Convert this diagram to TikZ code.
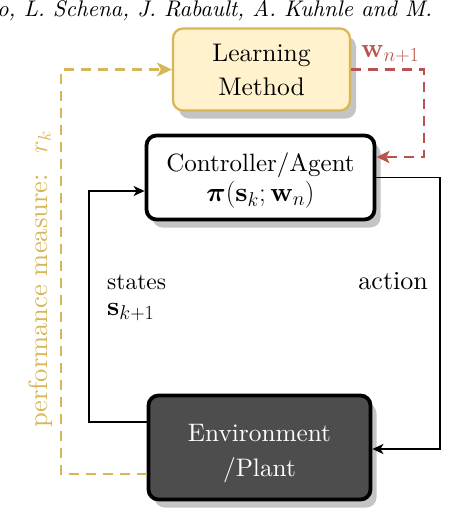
\RequirePackage{fix-cm}
\documentclass[tikz,border=0pt]{standalone}
\usepackage{amsmath,bm}
\usepackage{fontspec}
\setmainfont{lmroman10-regular.otf}[BoldFont=lmroman10-bold.otf, ItalicFont=lmroman10-italic.otf, BoldItalicFont=lmroman10-bolditalic.otf]
\DeclareMathSizes{27}{27}{20}{15}
\usetikzlibrary{shadows,arrows.meta}
\definecolor{goldc}{HTML}{D6B656}
\definecolor{goldfill}{HTML}{FFF2CC}
\definecolor{redc}{HTML}{B85450}
\definecolor{envfill}{HTML}{4D4D4D}
\definecolor{shadowc}{HTML}{C4C4C4}
\newcommand{\mathbig}{\fontsize{27}{30}\selectfont}
\tikzset{
  boxbase/.style={rounded corners=10pt, align=center, inner sep=0pt,
    drop shadow={shadow xshift=6pt, shadow yshift=-8pt, fill=shadowc, opacity=1}},
  learnbox/.style={boxbase, draw=goldc, fill=goldfill, line width=2.2pt, font=\fontsize{25.5}{34}\selectfont},
  ctrlbox/.style={boxbase, draw=black, fill=white, line width=3.8pt, font=\fontsize{25}{30}\selectfont},
  envbox/.style={boxbase, draw=black, fill=envfill, text=white, line width=3.8pt, font=\fontsize{25.3}{35}\selectfont},
  blackline/.style={draw=black, line width=1.8pt, -{Stealth[length=11pt,width=10pt,inset=3pt]}},
  goldline/.style={draw=goldc, line width=2.4pt, dash pattern=on 10pt off 7pt, -{Stealth[length=15pt,width=14pt,inset=4pt]}},
  redline/.style={draw=redc, line width=2.4pt, dash pattern=on 10pt off 7pt, -{Stealth[length=13pt,width=12pt,inset=3pt]}},
  lbl/.style={font=\fontsize{25}{30}\selectfont, inner sep=0pt},
}
\begin{document}
\begin{tikzpicture}[x=1pt,y=-1pt]
\useasboundingbox (0,0) rectangle (470,512);
\begin{scope}
\clip (0,0) rectangle (470,512);
\node[lbl, anchor=base west, font=\fontsize{22.6}{26}\selectfont\itshape] (hdr) at (-3,16) {o, L. Schena, J. Rabault, A. Kuhnle and M.};
\end{scope}
\node[learnbox, minimum width=177pt, minimum height=82pt] (learn) at (261.5,69.5) {Learning\\Method};
\node[ctrlbox, minimum width=228pt, minimum height=84pt] (ctrl) at (260.5,177.5) {\rule{0pt}{25pt}Controller/Agent\\{\mathbig$\boldsymbol{\pi}(\mathbf{s}_k;\mathbf{w}_n)$}};
\node[envbox, minimum width=222pt, minimum height=104pt] (env) at (259.5,447.5) {\rule{0pt}{30pt}Environment\\/Plant};
\coordinate (ar) at (440,0);
\coordinate (al) at (89,0);
\coordinate (gl) at (61,0);
\coordinate (rr) at (424,0);
% action
\draw[blackline] ([yshift=0pt]ctrl.east) -- ([yshift=0pt]ctrl.east -| ar) -- ([yshift=-1.5pt]env.east -| ar) -- ([yshift=-1.5pt]env.east);
% states
\draw[blackline] ([yshift=25.5pt]env.west) -- ([yshift=25.5pt]env.west -| al) -- ([yshift=-13.5pt]ctrl.west -| al) -- ([yshift=-13.5pt]ctrl.west);
% performance
\draw[goldline] ([yshift=-26.5pt]env.west) -- ([yshift=-26.5pt]env.west -| gl) -- (learn.west -| gl) -- (learn.west);
% weights
\draw[redline] (learn.east) -- (learn.east -| rr) -- ([yshift=20.5pt]ctrl.east -| rr) -- ([yshift=20.5pt]ctrl.east);
\node[lbl, anchor=base west, font=\fontsize{23.5}{28}\selectfont] (st) at (107,289) {states};
\node[lbl, anchor=base west, font=\mathbig] (sk) at (107,315) {$\mathbf{s}_{k+1}$};
\node[lbl, anchor=base east, font=\fontsize{26}{30}\selectfont] (act) at (428,289) {action};
\node[lbl, anchor=base west, text=redc, font=\mathbig] (wl) at (361,57) {$\mathbf{w}_{n+1}$};
\node[lbl, anchor=base west, rotate=90, text=goldc, font=\fontsize{26.5}{30}\selectfont] (pm) at (47,428) {performance measure:\hspace{0.8em}$r_k$};
\end{tikzpicture}
\end{document}
